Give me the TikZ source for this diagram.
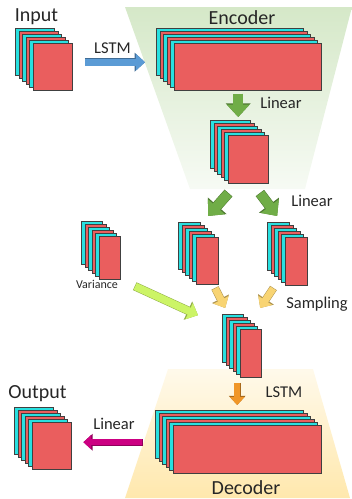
\documentclass[tikz,border=0pt]{standalone}
\usepackage{fontspec}
\setmainfont{Carlito}
\usetikzlibrary{arrows.meta,shadows,calc}
\definecolor{cellred}{RGB}{234,94,94}
\definecolor{cellcyan}{RGB}{40,224,224}
\definecolor{encgreen}{RGB}{213,232,200}
\definecolor{decyellow}{RGB}{255,232,173}
\definecolor{arrblue}{RGB}{91,155,213}
\definecolor{arrgreen}{RGB}{112,173,71}
\definecolor{arryellow}{RGB}{248,212,115}
\definecolor{arrlime}{RGB}{204,244,102}
\definecolor{arrorange}{RGB}{240,150,40}
\definecolor{arrmagenta}{RGB}{204,0,130}
\tikzset{
  stack/.style={draw=black!75, fill=cellred, inner sep=0pt, anchor=north west,
    general shadow={fill=cellcyan, draw=black!75, shadow xshift=-18pt, shadow yshift=15pt},
    general shadow={fill=cellred, draw=black!75, shadow xshift=-14.4pt, shadow yshift=12pt},
    general shadow={fill=cellcyan, draw=black!75, shadow xshift=-10.8pt, shadow yshift=9pt},
    general shadow={fill=cellred, draw=black!75, shadow xshift=-7.2pt, shadow yshift=6pt},
    general shadow={fill=cellcyan, draw=black!75, shadow xshift=-3.6pt, shadow yshift=3pt}},
  title/.style={anchor=base, text=black!85, font=\fontsize{20}{24}\selectfont},
  tag/.style={anchor=base, text=black!85, font=\fontsize{16.5}{20}\selectfont},
  blockarrow/.style 2 args={line width=#1, draw=#2, -{Triangle[length=0pt 1.3, width=0pt 2.3]},
    preaction={draw=#2!70!black, line width=#1+1pt, shorten <=-0.5pt,
      -{Triangle[length=0pt 1.3, width=0pt 2.3]}}}
}
\begin{document}
\begin{tikzpicture}[x=1pt, y=-1pt]
  \useasboundingbox (0,0) rectangle (352,499);
  \shade[top color=encgreen, bottom color=encgreen!20] (125,7) -- (352,7) -- (305,189) -- (190,189) -- cycle;
  \shade[top color=decyellow!25, bottom color=decyellow] (168,369) -- (313,369) -- (350,498) -- (125,498) -- cycle;

  \node [stack, minimum width=39pt, minimum height=47pt] (in) at (33,43) {};
  \node [stack, minimum width=147pt, minimum height=47pt] (enc) at (174,43) {};
  \node [stack, minimum width=40pt, minimum height=48pt] (hid) at (228,135) {};
  \node [stack, minimum width=21pt, minimum height=43pt] (var) at (99,236) {};
  \node [stack, minimum width=22pt, minimum height=47pt] (zl) at (196,237) {};
  \node [stack, minimum width=22pt, minimum height=48pt] (zr) at (285,237) {};
  \node [stack, minimum width=21pt, minimum height=48pt] (z) at (240,329) {};
  \node [stack, minimum width=148pt, minimum height=48pt] (dec) at (173,425) {};
  \node [stack, minimum width=39pt, minimum height=47pt] (out) at (32,422) {};

  \node [title] (tin) at (36.5,21) {Input};
  \node [title] (tenc) at (242,24) {Encoder};
  \node [title] (tout) at (37.5,398) {Output};
  \node [title] (tdec) at (246,494) {Decoder};
  \node [tag] (l1) at (112.5,53) {LSTM};
  \node [tag] (l2) at (281,108) {Linear};
  \node [tag] (l3) at (312,206) {Linear};
  \node [tag] (l4) at (317,308) {Sampling};
  \node [tag] (l5) at (284,397) {LSTM};
  \node [tag] (l6) at (114,429) {Linear};
  \node [anchor=base, text=black!85, font=\fontsize{12}{14}\selectfont] (tvar) at (97,288) {Variance};

  \draw[blockarrow={7pt}{arrblue}] ($(in.east)+(13,-4.5)$) -- ($(enc.west)+(-29,-4.5)$);
  \draw[blockarrow={9.5pt}{arrgreen}] ($(hid.north)+(-10,-41)$) -- ($(hid.north)+(-10,-18)$);
  \draw[blockarrow={9.5pt}{arrgreen}] ($(hid.south)+(-20,10)$) -- ($(zl.north)+(1,-21)$);
  \draw[blockarrow={9.5pt}{arrgreen}] ($(hid.south)+(12,10)$) -- ($(zr.north)+(-19,-21)$);
  \draw[blockarrow={7pt}{arryellow}] ($(zl.south)+(8,4)$) -- ($(z.north)+(-25.5,-21)$);
  \draw[blockarrow={7pt}{arryellow}] ($(zr.south)+(-23,3)$) -- ($(z.north)+(9.5,-21)$);
  \draw[blockarrow={7.5pt}{arrlime}] ($(var.south)+(25.5,7)$) -- ($(z.west)+(-42,-38)$);
  \draw[blockarrow={6pt}{arrorange}] ($(z.south)+(-13.5,6)$) -- ($(dec.north)+(-10,-20)$);
  \draw[blockarrow={6pt}{arrmagenta}] ($(dec.west)+(-31,-7)$) -- ($(out.east)+(12,-3.5)$);
\end{tikzpicture}
\end{document}
